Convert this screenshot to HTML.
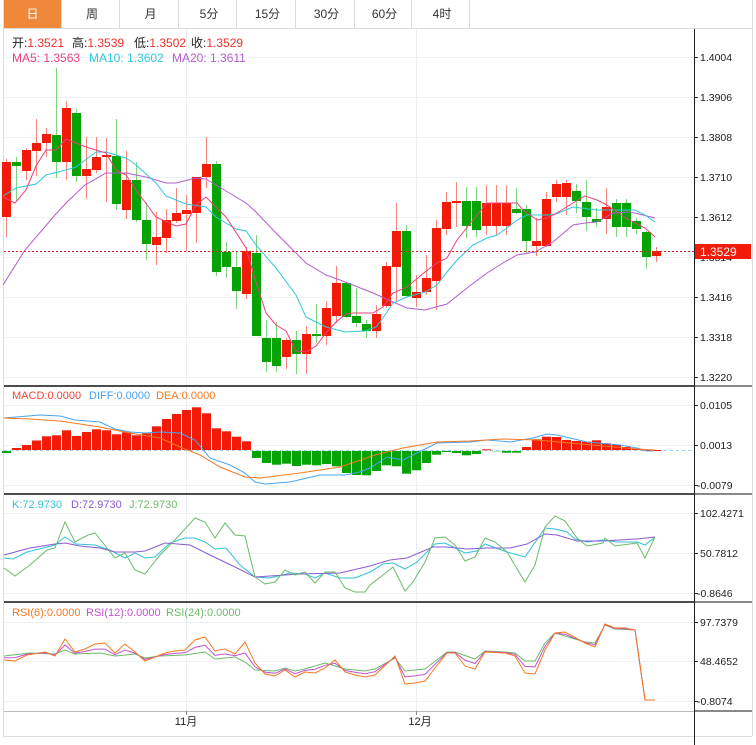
<!DOCTYPE html>
<html><head><meta charset="utf-8">
<style>
body{margin:0;background:#fff;font-family:"Liberation Sans","Noto Sans CJK SC",sans-serif;}
#wrap{position:relative;width:756px;height:745px;overflow:hidden;}
svg text{font-family:"Liberation Sans","Noto Sans CJK SC",sans-serif;}
</style></head><body><div id="wrap">
<svg id="s" width="756" height="745" viewBox="0 0 756 745" xmlns="http://www.w3.org/2000/svg"></svg>
</div>
<script>
var S=document.getElementById('s'),h='';
function L(x1,y1,x2,y2,c,w,d){h+='<line x1="'+x1+'" y1="'+y1+'" x2="'+x2+'" y2="'+y2+'" stroke="'+c+'" stroke-width="'+(w||1)+'"'+(d?' stroke-dasharray="'+d+'"':'')+'/>';}
function R(x,y,w,hh,c){h+='<rect x="'+x+'" y="'+y+'" width="'+w+'" height="'+hh+'" fill="'+c+'"/>';}
function T(x,y,t,c,s,a){h+='<text x="'+x+'" y="'+y+'" fill="'+c+'" font-size="'+(s||11)+'"'+(a?' text-anchor="'+a+'"':'')+'>'+t+'</text>';}
function P(pts,c){var d='M'+pts.map(function(p){return p[0]+' '+p[1]}).join(' L');h+='<path d="'+d+'" fill="none" stroke="'+c+'" stroke-width="1"/>';}
R(0,0,756,745,'#fff');
var tabs=[['日',0,61],['周',61,119],['月',119,178],['5分',178,236],['15分',236,295],['30分',295,354],['60分',354,411],['4时',411,469]];
tabs.forEach(function(t,i){if(i==0)R(4,0,57,28,'#f0883a');T((t[1]+t[2])/2+2,18,t[0],i==0?'#fff':'#333',12,'middle');L(t[2]+.5,0,t[2]+.5,28,'#ddd');});
L(3,28.5,752,28.5,'#ddd');
L(3.5,0,3.5,736,'#ddd');L(752.5,0,752.5,736,'#ddd');L(3,736.5,752,736.5,'#ddd');
[57,97,137,177,217,257,297,337,377].forEach(function(y){L(4,y+.5,694,y+.5,'#edf1f4');});
[405,445,485,513,553,593,622,661,701].forEach(function(y){L(4,y+.5,694,y+.5,'#edf1f4');});
L(186.5,29,186.5,711,'#e8eef2');L(416.5,29,416.5,711,'#e8eef2');
L(4,386,694,386,'#111',1.5);L(4,494,694,494,'#111',1.5);L(4,602,694,602,'#111',1.5);L(4,711.5,694,711.5,'#bbb');
L(694.5,29,694.5,745,'#222');
L(694,386,752,386,'#111');L(694,494,752,494,'#111');L(694,602,752,602,'#111');L(694,711,752,711,'#111');
var pl=[['1.4004',57],['1.3906',97],['1.3808',137],['1.3710',177],['1.3612',217],['1.3514',257],['1.3416',297],['1.3318',337],['1.3220',377]];
pl.forEach(function(p){L(694,p[1]+.5,698,p[1]+.5,'#222');T(700,p[1]+4,p[0],'#222',10.5);});
[['0.0105',405],['0.0013',445],['-0.0079',485],['102.4271',513],['50.7812',553],['-0.8646',593],['97.7379',622],['48.4652',661],['-0.8074',701]].forEach(function(p){L(694,p[1]+.5,698,p[1]+.5,'#222');T(p[0][0]=='-'?697:700,p[1]+4,p[0],'#222',10.5);});
var C=[['r',162,217,159,237],['g',162,166,157,201],['r',150,171,148,180],['r',143,151,119,176],['r',134,143,128,157],['g',135,162,68,178],['r',108,162,101,180],['g',113,176,109,182],['r',169,176,137,199],['r',157,170,137,173],
['r',155,157,138,202],['g',156,204,119,210],['r',180,210,151,219],['g',180,220,162,222],['g',220,244,202,260],['r',237,245,212,265],['r',220,238,209,253],['r',213,221,188,223],['r',210,214,195,251],['r',177,213,177,243],
['r',164,177,137,188],['g',164,272,161,276],['g',252,267,242,278],['g',267,291,252,309],['r',251,294,247,299],['g',253,336,235,336],['g',338,362,320,372],['g',338,366,322,372],['r',340,357,338,369],['g',340,354,331,374],
['r',334,354,326,374],['g',334,336,304,343],['r',308,336,301,345],['r',283,316,266,323],['g',283,317,282,318],['g',316,323,288,327],['g',324,331,320,338],['r',314,331,305,338],['r',266,306,262,308],['r',231,267,203,302],
['g',231,296,225,297],['r',292,298,275,307],['r',278,292,255,295],['r',228,281,220,310],['r',202,229,192,235],['r',201,203,182,227],['g',201,226,187,238],['g',201,230,187,237],['r',203,226,185,235],['r',203,226,185,235],
['r',203,226,185,235],['g',209,213,188,214],['g',209,241,205,253],['r',241,246,218,256],['r',199,246,192,247],['r',184,197,180,202],['r',183,197,180,215],['g',191,201,184,213],['g',202,217,180,231],['g',219,222,208,227],
['r',207,219,188,234],['g',203,227,199,237],['g',203,227,199,237],['g',221,229,218,234],['g',232,257,231,269],['r',251,256,247,262]];
C.forEach(function(c,i){var x=6+10*i;var col=c[0]=='r'?'#f21a08':'#06a307',wc=c[0]=='r'?'#f6857b':'#7ed47e';L(x+.5,c[3],x+.5,c[4],wc);R(x-4,c[1],9,Math.max(2,c[2]-c[1]),col);});
P([[3,285],[25,250],[55,215],[67,202],[85,185],[106,173],[126,173],[146,177],[166,183],[176,183],[196,178],[206,179],[216,185],[246,203],[256,212],[276,233],[296,253],[306,263],[326,275],[340,280],[373,293],[393,302],[407,308],[425,310],[447,304],[467,288],[487,273],[503,263],[517,255],[535,252],[553,242],[573,225],[585,223],[597,222],[613,213],[630,212],[643,215],[655,218]],'#b45ccf');
P([[3,196],[16,188],[36,184],[46,175],[66,170],[76,167],[96,152],[106,152],[126,158],[136,165],[156,183],[166,196],[186,204],[206,207],[216,217],[236,229],[246,231],[256,245],[276,268],[296,295],[306,317],[326,327],[345,332],[365,331],[376,327],[383,318],[393,303],[407,297],[425,292],[437,285],[447,272],[457,260],[473,245],[487,238],[497,235],[507,228],[517,220],[527,215],[547,215],[556,214],[573,207],[597,210],[613,210],[635,210],[645,215],[655,222]],'#2fc7dc');
P([[3,197],[15,203],[26,190],[36,166],[46,150],[56,150],[66,139],[86,147],[106,153],[116,170],[126,175],[136,190],[156,217],[176,226],[186,224],[196,205],[206,197],[216,207],[226,217],[246,248],[256,282],[266,313],[276,325],[286,331],[296,351],[306,352],[316,346],[326,333],[336,322],[346,314],[353,313],[373,313],[383,307],[393,293],[407,287],[425,272],[437,263],[447,258],[457,240],[473,220],[487,203],[507,203],[517,203],[523,210],[537,220],[547,218],[557,213],[573,203],[585,196],[597,200],[607,205],[623,216],[633,222],[645,228],[655,237]],'#e8407a');
L(4,251.5,694,251.5,'#e02020',1,'2,2');R(695,244,56,15,'#f21a08');T(700,256,'1.3529','#fff',12);
T(12,47,'开:<tspan fill="#f0302a">1.3521</tspan>','#222',12);T(72,47,'高:<tspan fill="#f0302a">1.3539</tspan>','#222',12);T(134,47,'低:<tspan fill="#f0302a">1.3502</tspan>','#222',12);T(191,47,'收:<tspan fill="#f0302a">1.3529</tspan>','#222',12);
T(12,62,'MA5: 1.3563','#e8407a',12);T(89,62,'MA10: 1.3602','#2fc7dc',12);T(172,62,'MA20: 1.3611','#b45ccf',12);
var M=[-2,2,5,9.5,13.7,14.7,19.7,14,18,20.7,19.7,15.7,17.7,14.7,16.7,23.7,31,36,40,42.7,36.7,21.7,18.7,13.3,8.7,-7,-12,-13.7,-12.7,-15,-13.7,-14.3,-13,-15.3,-22,-24,-24.3,-20,-14.3,-15.3,-22.7,-19.3,-12,-3.7,-1,-2,-4.3,-3,0.7,-0.3,-1.7,-1.7,3,10.7,13.3,13,10,9,8.3,9.7,6.7,5.3,3,1.3,0.3,0];
L(4,450.5,694,450.5,'#9ad3e8',1,'3,3');
M.forEach(function(v,i){var x=6+10*i;if(v>=0)R(x-4,450-v,9,Math.max(1,v),'#f21a08');else R(x-4,451,9,-v,'#06a307');});
P([[4,418],[40,415],[60,416],[75,420],[100,422],[115,429],[130,432],[145,433],[160,432],[180,433],[195,440],[210,458],[230,465],[245,473],[255,482],[265,484],[290,482],[320,475],[345,475],[360,472],[370,468],[387,457],[403,460],[417,453],[437,443],[470,442],[487,440],[510,442],[533,438],[547,434],[557,435],[587,442],[620,445],[637,448],[647,451],[653,451]],'#4aa3ec');
P([[4,418],[30,419],[60,421],[100,427],[130,433],[160,438],[180,447],[200,455],[220,467],[245,477],[260,478],[300,473],[340,467],[375,455],[403,448],[437,442],[470,441],[503,439],[537,440],[570,443],[603,446],[637,449],[655,450]],'#f5781e');
T(12,399,'MACD:0.0000','#f0453a',11);T(89,399,'DIFF:0.0000','#4aa3ec',11);T(156,399,'DEA:0.0000','#f5781e',11);
P([[4,558],[13,559],[27,552],[55,545],[65,537],[76,544],[95,545],[110,550],[125,558],[135,553],[145,558],[155,557],[170,543],[185,538],[195,538],[205,542],[215,549],[226,548],[240,565],[255,577],[270,578],[290,573],[305,574],[315,578],[325,573],[340,578],[355,578],[370,572],[383,564],[393,563],[405,569],[417,562],[435,544],[445,543],[455,548],[465,553],[477,551],[485,544],[507,552],[525,557],[545,528],[555,529],[567,532],[575,539],[587,542],[603,540],[617,542],[637,542],[645,545],[655,537]],'#33c2d6');
P([[4,555],[30,548],[55,544],[65,543],[80,546],[100,548],[115,552],[135,552],[145,551],[165,543],[190,545],[210,555],[235,567],[255,577],[300,574],[340,573],[370,566],[390,560],[407,558],[433,547],[447,547],[467,549],[487,548],[510,548],[527,544],[545,534],[557,535],[577,541],[603,541],[637,539],[655,537]],'#8a5bd0');
P([[4,568],[15,576],[30,565],[47,550],[55,548],[65,522],[75,542],[88,535],[95,533],[115,558],[125,553],[135,570],[145,574],[160,555],[175,540],[195,518],[205,522],[215,538],[225,523],[235,535],[245,536],[255,577],[265,584],[275,582],[285,570],[295,575],[305,572],[315,583],[325,572],[335,572],[345,588],[355,592],[365,592],[370,585],[383,575],[393,567],[405,591],[413,582],[425,562],[435,538],[445,537],[455,545],[465,561],[475,557],[485,538],[495,542],[507,552],[525,582],[535,565],[545,527],[555,516],[565,521],[577,538],[587,546],[603,543],[605,538],[615,546],[637,543],[645,558],[655,537]],'#6cba6c');
T(12,508,'K:72.9730','#33c2d6',11);T(71,508,'D:72.9730','#8a5bd0',11);T(129,508,'J:72.9730','#6cba6c',11);
var r6=[[4,660],[15,661],[27,655],[45,652],[55,656],[65,639],[75,652],[85,649],[95,644],[105,643],[115,653],[125,644],[135,652],[145,661],[155,657],[165,653],[175,651],[185,650],[195,640],[205,637],[215,651],[225,649],[235,654],[245,642],[255,663],[265,674],[275,676],[285,670],[295,677],[305,672],[315,673],[325,668],[335,660],[345,672],[355,675],[365,677],[375,675],[395,656],[405,684],[415,683],[425,681],[435,668],[447,653],[455,653],[465,666],[475,669],[485,652],[505,653],[515,656],[525,673],[535,674],[545,650],[555,633],[565,632],[585,643],[595,647],[605,624],[615,628],[625,628],[635,630],[645,700],[655,700]];
var r24=[[4,656],[30,653],[55,654],[65,650],[75,654],[100,653],[115,656],[135,654],[145,658],[160,656],[185,655],[205,652],[215,659],[235,657],[245,662],[255,670],[275,671],[285,668],[295,671],[305,669],[325,663],[345,669],[365,671],[375,669],[395,658],[405,671],[425,669],[447,652],[455,652],[475,659],[485,651],[505,652],[515,653],[525,661],[535,661],[545,643],[555,633],[585,642],[595,643],[605,625],[615,629],[635,630],[645,700],[655,700]];
function at(a,x){for(var i=1;i<a.length;i++){if(a[i][0]>=x){var t=(x-a[i-1][0])/(a[i][0]-a[i-1][0]);return a[i-1][1]+t*(a[i][1]-a[i-1][1]);}}return a[a.length-1][1];}
var r12=r6.map(function(p){return [p[0],(0.45*p[1]+0.55*at(r24,p[0])).toFixed(1)];});
P(r24,'#6cba6c');P(r12,'#c452d0');P(r6,'#f5781e');
T(12,616,'RSI(6):0.0000','#f5781e',11);T(86,616,'RSI(12):0.0000','#c452d0',11);T(166,616,'RSI(24):0.0000','#6cba6c',11);
L(186.5,711,186.5,715,'#888');L(416.5,711,416.5,715,'#888');
T(186,725,'11月','#222',11,'middle');T(420,725,'12月','#222',11,'middle');
S.innerHTML=h;
</script>
</body></html>
